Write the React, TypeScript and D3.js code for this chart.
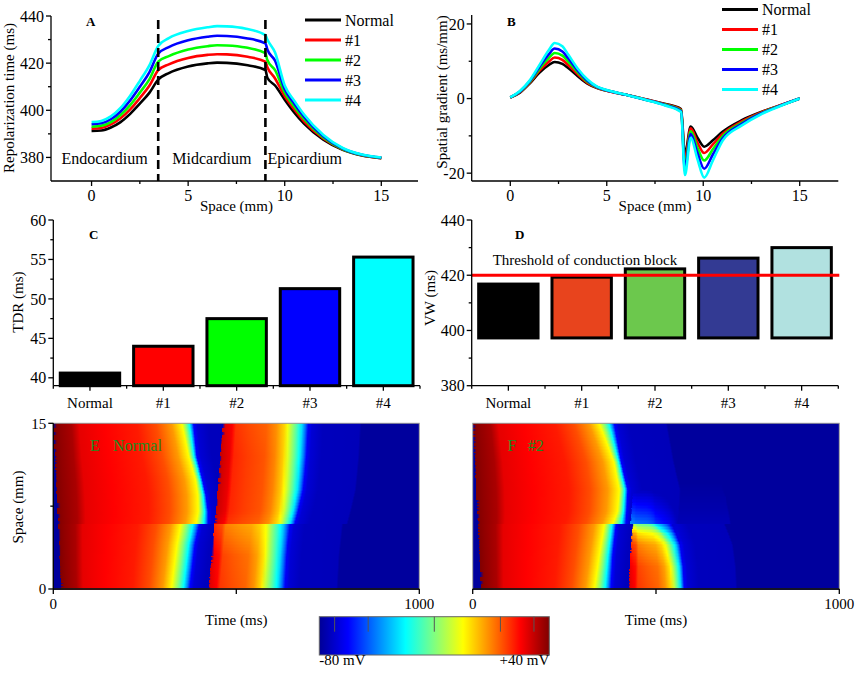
import React, { useMemo } from "react";
import * as d3 from "d3";

const FONT = "'Liberation Serif', 'Times New Roman', Times, serif";
const W = 856;
const H = 674;

// ---- series shared by panels A-D ----
const seriesNames = ["Normal", "#1", "#2", "#3", "#4"];
const seriesColors = ["#000000", "#ff0000", "#00ff00", "#0000ff", "#00ffff"];

// ---- panel A: repolarization time (ms) vs space (mm) ----
const spaceA = [0, 0.5, 1, 1.5, 2, 2.5, 3, 3.45, 4, 5, 6, 6.5, 7, 8, 9, 9.1, 9.5, 10, 10.5, 11, 12, 13, 14, 15];
const rtNormal = [391.2, 391.4, 392.7, 395.0, 398.5, 402.8, 407.5, 413.0, 415.8, 418.6, 419.9, 420.2, 420.1, 419.2, 417.1, 413.8, 410.5, 404.5, 399.0, 394.3, 387.5, 383.2, 380.8, 379.7];
const rt1 = [392.2, 392.5, 394.0, 396.6, 400.4, 405.2, 410.5, 417.0, 419.5, 422.2, 423.5, 423.8, 423.7, 422.8, 420.6, 418.3, 413.5, 406.0, 400.3, 395.3, 388.0, 383.4, 380.9, 379.7];
const rt2 = [393.0, 393.4, 395.0, 398.0, 402.2, 407.5, 413.2, 420.6, 423.0, 425.8, 427.2, 427.6, 427.5, 426.6, 424.2, 421.3, 417.0, 407.5, 401.5, 396.3, 388.5, 383.6, 381.0, 379.8];
const rt3 = [394.1, 394.5, 396.2, 399.5, 404.2, 410.0, 416.2, 424.0, 426.8, 429.7, 431.2, 431.6, 431.5, 430.6, 428.4, 425.8, 421.0, 409.0, 402.8, 397.3, 389.0, 383.8, 381.1, 379.9];
const rt4 = [395.0, 395.5, 397.4, 401.0, 406.2, 412.5, 419.2, 427.3, 430.6, 433.6, 435.2, 435.7, 435.6, 434.6, 431.9, 430.0, 424.5, 410.5, 404.0, 398.2, 389.5, 384.0, 381.2, 380.0];
const repolTimes = [rtNormal, rt1, rt2, rt3, rt4];
const regionBounds = [3.45, 9];
const regionLabels = ["Endocardium", "Midcardium", "Epicardium"];

// ---- panel B: spatial gradient (ms/mm) ----
const spaceB = [0, 0.5, 1, 1.5, 2, 2.3, 2.7, 3, 3.5, 4, 4.5, 5, 6, 7, 8, 8.85, 9.05, 9.35, 9.7, 10.05, 10.5, 11, 12, 13, 14, 15];
const sgNormal = [0.3, 1.6, 4.0, 6.9, 9.0, 9.8, 9.3, 8.2, 6.0, 4.0, 2.8, 2.1, 1.0, -0.2, -1.4, -2.8, -15.0, -7.5, -10.5, -12.9, -11.2, -8.9, -5.8, -3.6, -1.8, 0];
const sg1 = [0.3, 1.7, 4.2, 7.4, 9.9, 11.0, 10.4, 9.0, 6.5, 4.2, 2.9, 2.1, 1.0, -0.2, -1.5, -3.0, -16.5, -8.0, -11.8, -14.6, -12.3, -9.5, -6.1, -3.7, -1.8, 0];
const sg2 = [0.3, 1.8, 4.4, 7.9, 10.9, 12.2, 11.5, 9.9, 7.0, 4.5, 3.0, 2.2, 1.0, -0.3, -1.6, -3.2, -18.0, -8.8, -13.2, -16.6, -13.6, -10.1, -6.5, -3.9, -1.9, 0];
const sg3 = [0.3, 1.9, 4.6, 8.4, 11.9, 13.4, 12.6, 10.8, 7.5, 4.8, 3.1, 2.2, 1.0, -0.3, -1.7, -3.4, -19.0, -9.5, -14.6, -18.8, -15.0, -10.7, -6.8, -4.0, -1.9, 0];
const sg4 = [0.3, 2.0, 4.8, 8.9, 13.0, 14.9, 14.0, 11.8, 8.0, 5.1, 3.2, 2.3, 1.0, -0.3, -1.8, -3.6, -20.5, -10.5, -16.2, -21.2, -16.6, -11.3, -7.2, -4.2, -2.0, 0];
const spatialGrads = [sgNormal, sg1, sg2, sg3, sg4];

// ---- panel C: TDR (ms) ----
const tdrValues = [40.6, 44.0, 47.5, 51.3, 55.3];

// ---- panel D: vulnerable window (ms) ----
const vwLow = [397.3, 397.3, 397.3, 397.3, 397.3];
const vwHigh = [416.8, 419.3, 422.3, 426.2, 430.0];
const vwColors = ["#000000", "#e8441d", "#6cc84d", "#333a93", "#b1e1e0"];
const vwThreshold = 420;

// ---- colour map (mV) used by E, F and the colour bar ----
const jetVolts = [-80, -65, -50, -35, -20, -5, 10, 25, 40];
const jetColors = ["#000096", "#0000ff", "#0080ff", "#00ffff", "#80ff80", "#ffff00", "#ff8000", "#ff0000", "#800000"];
const colorbarTicks = [-72, -54.5, -20, 14.5, 32];

// action potential shape: plateau (upstroke -> yellow), repolarisation (yellow -> blue), tail (ms after blue)
const plateauPhase = [0, 0.05, 0.14, 0.2, 0.4, 0.65, 0.8, 0.92, 1];
const plateauVolt = [40, 38, 35, 28, 25, 22, 16, 7, -5];
const repolPhase = [0, 0.35, 0.65, 0.85, 1];
const repolVolt = [-5, -20, -35, -50, -65];
const tailTime = [0, 10, 40, 140, 145];
const tailVolt = [-65, -71, -74.5, -75, -79];
const REST = -79;

// E (Normal): knots along space (mm) -> upstroke, yellow and blue times (ms), peak (mV)
const eAp1Space = [0, 2, 4, 5.8, 5.9, 7, 8.5, 10, 12, 15];
const eAp1Up = [21, 18, 15.5, 13, 13, 11, 9, 7, 4, 0];
const eAp1Yellow = [323, 330, 338, 348, 390, 396, 395, 388, 370, 351];
const eAp1Blue = [373, 380, 387, 399, 423, 423, 417, 407, 392, 383];
const eAp1Peak = [40, 40, 40, 40, 40, 40, 40, 40, 40, 40];

const eAp2Space = [0, 3, 5.8, 5.9, 7, 9, 12, 15];
const eAp2Up = [424, 432, 440, 440, 444, 449, 456, 463];
const eAp2Yellow = [578, 587, 597, 624, 630, 637, 642, 647];
const eAp2Blue = [633, 638, 647, 660, 669, 683, 692, 697];
const eAp2Peak = [30, 28, 20, 30, 32, 32, 32, 30];

// F (#2)
const fAp1Space = [0, 3, 5.8, 5.9, 7, 9, 11.5, 15];
const fAp1Up = [22, 18, 14, 14, 12, 9, 6, 0];
const fAp1Yellow = [332, 345, 359, 382, 395, 400, 385, 345];
const fAp1Blue = [377, 382, 391, 418, 420, 423, 405, 386];
const fAp1Peak = [40, 40, 40, 40, 40, 40, 40, 40];

const fAp2Space = [0, 2, 4, 5, 5.8, 5.9, 15];
const fAp2Up = [425, 428, 431, 433, 436, 436, 436];
const fAp2Yellow = [550, 546, 535, 520, 500, 500, 500];
const fAp2Blue = [577, 574, 566, 555, 545, 545, 545];
const fAp2Peak = [30, 28, 20, 8, -12, -80, -80];

const fGlowSpace = [0, 5.8, 5.9, 7, 8.5, 9.8];
const fGlowUp = [430, 430, 430, 432, 436, 440];
const fGlowYellow = [500, 500, 500, 498, 495, 490];
const fGlowBlue = [560, 560, 560, 555, 545, 530];
const fGlowPeak = [-80, -80, -48, -58, -70, -80];

// ---- scales ----
const xA = d3.scaleLinear().domain([-2.1, 16.9]).range([51, 418]);
const yA = d3.scaleLinear().domain([370, 440]).range([181, 16]);
const xB = d3.scaleLinear().domain([-2, 17]).range([471.7, 838.3]);
const yB = d3.scaleLinear().domain([-22.1, 22.4]).range([181, 15]);
const xC = d3.scaleBand<string>().domain(seriesNames).range([53.3, 420]).paddingInner(0.19).paddingOuter(0.095);
const yC = d3.scaleLinear().domain([39, 60]).range([385.7, 220]);
const xD = d3.scaleBand<string>().domain(seriesNames).range([471.7, 838.3]).paddingInner(0.19).paddingOuter(0.095);
const yD = d3.scaleLinear().domain([380, 440]).range([385.7, 220]);
const xE = d3.scaleLinear().domain([0, 1000]).range([53.3, 419.3]);
const xF = d3.scaleLinear().domain([0, 1000]).range([472.7, 839.3]);
const yEF = d3.scaleLinear().domain([0, 15]).range([589, 423.3]);

const jet = d3.scaleLinear<string>().domain(jetVolts).range(jetColors).interpolate(d3.interpolateRgb).clamp(true);
const plateau = d3.scaleLinear().domain(plateauPhase).range(plateauVolt).clamp(true);
const repol = d3.scaleLinear().domain(repolPhase).range(repolVolt).clamp(true);
const tail = d3.scaleLinear().domain(tailTime).range(tailVolt).clamp(true);

type Lin = d3.ScaleLinear<number, number>;
type Ap = { up: Lin; yellow: Lin; blue: Lin; peak: Lin };

function makeAp(space: number[], up: number[], yellow: number[], blue: number[], peak: number[]): Ap {
	const k = (r: number[]) => d3.scaleLinear().domain(space).range(r).clamp(true);
	return { up: k(up), yellow: k(yellow), blue: k(blue), peak: k(peak) };
}

const apsE = [
	makeAp(eAp1Space, eAp1Up, eAp1Yellow, eAp1Blue, eAp1Peak),
	makeAp(eAp2Space, eAp2Up, eAp2Yellow, eAp2Blue, eAp2Peak),
];
const apsF = [
	makeAp(fAp1Space, fAp1Up, fAp1Yellow, fAp1Blue, fAp1Peak),
	makeAp(fAp2Space, fAp2Up, fAp2Yellow, fAp2Blue, fAp2Peak),
	makeAp(fGlowSpace, fGlowUp, fGlowYellow, fGlowBlue, fGlowPeak),
];

type ApRow = { up: number; yellow: number; blue: number; peak: number };

// membrane potential of one action potential at time t (ms)
function apVoltage(p: ApRow, t: number): number {
	if (t < p.up) return -Infinity;
	const k = (p.peak - REST) / (40 - REST);
	if (t <= p.yellow) return REST + (plateau((t - p.up) / (p.yellow - p.up)) - REST) * k;
	if (t <= p.blue) return REST + (repol((t - p.yellow) / (p.blue - p.yellow)) - REST) * k;
	const dt = t - p.blue;
	if (dt <= tailTime[tailTime.length - 1]) return Math.min(tail(dt), REST + (repolVolt[repolVolt.length - 1] - REST) * k);
	return -Infinity;
}

function rowStops(aps: Ap[], s: number) {
	const rows: ApRow[] = aps
		.map((ap) => ({ up: ap.up(s), yellow: ap.yellow(s), blue: ap.blue(s), peak: ap.peak(s) }))
		.filter((p) => p.peak > REST + 1);
	const times: number[] = d3.range(0, 1001, 10);
	rows.forEach((p) => {
		times.push(p.up - 0.2, p.up);
		plateauPhase.forEach((f) => times.push(p.up + f * (p.yellow - p.up)));
		repolPhase.forEach((g) => times.push(p.yellow + g * (p.blue - p.yellow)));
		tailTime.forEach((dt) => times.push(p.blue + dt));
		times.push(p.blue + tailTime[tailTime.length - 1] + 0.2);
	});
	const ts = Array.from(new Set(times.filter((t) => t >= 0 && t <= 1000).map((t) => Math.round(t * 100) / 100))).sort((a, b) => a - b);
	const vs = ts.map((t) => Math.max(REST, ...rows.map((p) => apVoltage(p, t))));
	const stops: { offset: number; color: string }[] = [];
	ts.forEach((t, i) => {
		const same = i > 0 && i < ts.length - 1 && Math.abs(vs[i - 1] - vs[i]) < 0.01 && Math.abs(vs[i + 1] - vs[i]) < 0.01;
		if (!same) stops.push({ offset: t / 1000, color: jet(vs[i]) });
	});
	return stops;
}

const N_ROWS = 110;

const Heatmap = ({ id, x, aps }: { id: string; x: Lin; aps: Ap[] }) => {
	const rows = useMemo(() => {
		const [top, bottom] = [yEF(15), yEF(0)];
		const h = (bottom - top) / N_ROWS;
		return d3.range(N_ROWS).map((i) => {
			const s = 15 - ((i + 0.5) * 15) / N_ROWS;
			return { y: top + i * h, h, stops: rowStops(aps, s) };
		});
	}, [aps]);
	const x0 = x(0);
	const w = x(1000) - x(0);
	return (
		<g>
			<defs>
				{rows.map((r, i) => (
					<linearGradient key={i} id={`${id}-${i}`} x1="0" x2="1" y1="0" y2="0">
						{r.stops.map((st, j) => (
							<stop key={j} offset={st.offset} stopColor={st.color} />
						))}
					</linearGradient>
				))}
			</defs>
			{rows.map((r, i) => (
				<rect key={i} x={x0} y={r.y} width={w} height={r.h + 0.6} fill={`url(#${id}-${i})`} shapeRendering="crispEdges" />
			))}
			<rect x={x0} y={yEF(15)} width={w} height={yEF(0) - yEF(15)} fill="none" stroke="#9a9a9a" strokeWidth={1} />
		</g>
	);
};

// ---- axis helpers ----
const AXIS = { stroke: "#000", strokeWidth: 1.3 };

function LeftAxis({ y, x, major, minor, size = 16, fmt = (v: number) => String(v), labels = true }: {
	y: Lin; x: number; major: number[]; minor: number[]; size?: number; fmt?: (v: number) => string; labels?: boolean;
}) {
	const [a, b] = y.range();
	return (
		<g>
			<line x1={x} x2={x} y1={a} y2={b} {...AXIS} />
			{minor.map((v) => <line key={`m${v}`} x1={x - 3} x2={x} y1={y(v)} y2={y(v)} {...AXIS} />)}
			{major.map((v) => (
				<g key={v}>
					<line x1={x - 5} x2={x} y1={y(v)} y2={y(v)} {...AXIS} />
					{labels && <text x={x - 7} y={y(v)} dy="0.35em" textAnchor="end" fontSize={size}>{fmt(v)}</text>}
				</g>
			))}
		</g>
	);
}

function BottomAxis({ x, y, major, minor, size = 16, labelled }: {
	x: Lin; y: number; major: number[]; minor: number[]; size?: number; labelled?: number[];
}) {
	const [a, b] = x.range();
	const shown = labelled ?? major;
	return (
		<g>
			<line x1={a} x2={b} y1={y} y2={y} {...AXIS} />
			{minor.map((v) => <line key={`m${v}`} x1={x(v)} x2={x(v)} y1={y} y2={y + 3} {...AXIS} />)}
			{major.map((v) => (
				<g key={v}>
					<line x1={x(v)} x2={x(v)} y1={y} y2={y + 5} {...AXIS} />
					{shown.includes(v) && <text x={x(v)} y={y + 20} textAnchor="middle" fontSize={size}>{v}</text>}
				</g>
			))}
		</g>
	);
}

function BandAxis({ x, y }: { x: d3.ScaleBand<string>; y: number }) {
	const [a, b] = x.range();
	const step = x.step();
	const edges = d3.range(seriesNames.length + 1).map((i) => a + i * step);
	return (
		<g>
			<line x1={a} x2={b} y1={y} y2={y} {...AXIS} />
			{edges.map((e, i) => <line key={`e${i}`} x1={e} x2={e} y1={y} y2={y + 3} {...AXIS} />)}
			{seriesNames.map((n) => {
				const cx = (x(n) ?? 0) + x.bandwidth() / 2;
				return (
					<g key={n}>
						<line x1={cx} x2={cx} y1={y} y2={y + 5} {...AXIS} />
						<text x={cx} y={y + 22} textAnchor="middle" fontSize={15}>{n}</text>
					</g>
				);
			})}
		</g>
	);
}

const YTitle = ({ x, y, text }: { x: number; y: number; text: string }) => (
	<text transform={`translate(${x},${y}) rotate(-90)`} textAnchor="middle" fontSize={15}>{text}</text>
);

const PanelTag = ({ x, y, text }: { x: number; y: number; text: string }) => (
	<text x={x} y={y} fontSize={13} fontWeight="bold">{text}</text>
);

function Legend({ x, y, gap }: { x: number; y: number; gap: number }) {
	return (
		<g>
			{seriesNames.map((n, i) => (
				<g key={n}>
					<line x1={x} x2={x + 36} y1={y + i * gap} y2={y + i * gap} stroke={seriesColors[i]} strokeWidth={3} />
					<text x={x + 40} y={y + i * gap} dy="0.35em" fontSize={16}>{n}</text>
				</g>
			))}
		</g>
	);
}

export default function App() {
	const lineA = d3.line<number>().x((_, i) => xA(spaceA[i])).y((d) => yA(d)).curve(d3.curveMonotoneX);
	const lineB = d3.line<number>().x((_, i) => xB(spaceB[i])).y((d) => yB(d)).curve(d3.curveMonotoneX);
	const [aTop, aBottom] = [yA(440), yA(370)];
	const bandsA = [xA.range()[0], xA(regionBounds[0]), xA(regionBounds[1])];

	return (
		<svg width={W} height={H} style={{ position: "absolute", left: 0, top: 0, background: "#fff" }} fontFamily={FONT}>
			{/* ---- A ---- */}
			<g>
				{repolTimes.map((d, i) => (
					<path key={i} d={lineA(d) ?? ""} fill="none" stroke={seriesColors[i]} strokeWidth={2.6} />
				))}
				{regionBounds.map((b) => (
					<line key={b} x1={xA(b)} x2={xA(b)} y1={aTop + 4} y2={aBottom} stroke="#000" strokeWidth={2.6} strokeDasharray="9,5" />
				))}
				<text x={(bandsA[0] + bandsA[1]) / 2} y={164} textAnchor="middle" fontSize={16}>{regionLabels[0]}</text>
				<text x={(bandsA[1] + bandsA[2]) / 2} y={164} textAnchor="middle" fontSize={16}>{regionLabels[1]}</text>
				<text x={bandsA[2] + 2} y={164} fontSize={16}>{regionLabels[2]}</text>
				<LeftAxis y={yA} x={xA.range()[0]} major={[380, 400, 420, 440]} minor={[390, 410, 430]} />
				<BottomAxis x={xA} y={aBottom} major={[0, 5, 10, 15]} minor={[2.5, 7.5, 12.5]} />
				<YTitle x={14} y={98} text="Repolarization time (ms)" />
				<text x={xA(7.5)} y={211} textAnchor="middle" fontSize={15}>Space (mm)</text>
				<PanelTag x={86} y={26} text="A" />
				<Legend x={305} y={20} gap={20} />
			</g>

			{/* ---- B ---- */}
			<g>
				{spatialGrads.map((d, i) => (
					<path key={i} d={lineB(d) ?? ""} fill="none" stroke={seriesColors[i]} strokeWidth={2.6} />
				))}
				<LeftAxis y={yB} x={xB.range()[0]} major={[-20, 0, 20]} minor={[-10, 10]} />
				<BottomAxis x={xB} y={yB.range()[0]} major={[0, 5, 10, 15]} minor={[2.5, 7.5, 12.5]} />
				<YTitle x={447} y={92} text="Spatial gradient (ms/mm)" />
				<text x={xB(7.5)} y={211} textAnchor="middle" fontSize={15}>Space (mm)</text>
				<PanelTag x={507} y={26} text="B" />
				<Legend x={722} y={9.5} gap={20} />
			</g>

			{/* ---- C ---- */}
			<g>
				{seriesNames.map((n, i) => (
					<rect key={n} x={xC(n)} y={yC(tdrValues[i])} width={xC.bandwidth()} height={yC(39) - yC(tdrValues[i])}
						fill={seriesColors[i]} stroke="#000" strokeWidth={3} />
				))}
				<LeftAxis y={yC} x={xC.range()[0]} major={[40, 45, 50, 55, 60]} minor={[42.5, 47.5, 52.5, 57.5]} />
				<BandAxis x={xC} y={yC.range()[0]} />
				<YTitle x={23} y={302} text="TDR (ms)" />
				<PanelTag x={89} y={239} text="C" />
			</g>

			{/* ---- D ---- */}
			<g>
				{seriesNames.map((n, i) => (
					<rect key={n} x={xD(n)} y={yD(vwHigh[i])} width={xD.bandwidth()} height={yD(vwLow[i]) - yD(vwHigh[i])}
						fill={vwColors[i]} stroke="#000" strokeWidth={3} />
				))}
				<line x1={xD.range()[0]} x2={xD.range()[1] + 1} y1={yD(vwThreshold)} y2={yD(vwThreshold)} stroke="#ff0000" strokeWidth={3} />
				<text x={xD.range()[0] + 21} y={yD(vwThreshold) - 10} fontSize={15}>Threshold of conduction block</text>
				<LeftAxis y={yD} x={xD.range()[0]} major={[380, 400, 420, 440]} minor={[390, 410, 430]} />
				<BandAxis x={xD} y={yD.range()[0]} />
				<YTitle x={435} y={298} text="VW (ms)" />
				<PanelTag x={515} y={239} text="D" />
			</g>

			{/* ---- E ---- */}
			<g>
				<Heatmap id="hmE" x={xE} aps={apsE} />
				<LeftAxis y={yEF} x={xE.range()[0]} major={[0, 15]} minor={[7.5]} size={15} />
				<BottomAxis x={xE} y={yEF(0)} major={[0, 500, 1000]} minor={[]} size={15} labelled={[0, 1000]} />
				<YTitle x={23} y={507} text="Space (mm)" />
				<text x={xE(500)} y={625} textAnchor="middle" fontSize={15}>Time (ms)</text>
				<text x={xE(100)} y={451} fontSize={16} fill="#1f8a1f">E</text>
				<text x={xE(163)} y={451} fontSize={16} fill="#1f8a1f">Normal</text>
			</g>

			{/* ---- F ---- */}
			<g>
				<Heatmap id="hmF" x={xF} aps={apsF} />
				<BottomAxis x={xF} y={yEF(0)} major={[0, 500, 1000]} minor={[]} size={15} labelled={[0, 1000]} />
				<text x={xF(500)} y={625} textAnchor="middle" fontSize={15}>Time (ms)</text>
				<text x={xF(95)} y={451} fontSize={16} fill="#1f8a1f">F</text>
				<text x={xF(150)} y={451} fontSize={16} fill="#1f8a1f">#2</text>
			</g>

			{/* ---- colour bar ---- */}
			<ColorBar />
		</svg>
	);
}

function ColorBar() {
	const cx = d3.scaleLinear().domain([-80, 40]).range([319.3, 549.3]);
	const [top, h] = [616.7, 38.3];
	return (
		<g>
			<defs>
				<linearGradient id="cbar" x1="0" x2="1" y1="0" y2="0">
					{jetVolts.map((v, i) => (
						<stop key={v} offset={(v + 80) / 120} stopColor={jetColors[i]} />
					))}
				</linearGradient>
			</defs>
			<rect x={cx(-80)} y={top} width={cx(40) - cx(-80)} height={h} fill="url(#cbar)" stroke="#666" strokeWidth={1} />
			{colorbarTicks.map((v) => (
				<line key={v} x1={cx(v)} x2={cx(v)} y1={top} y2={top + 15} stroke="#555" strokeWidth={1} />
			))}
			<text x={cx(-80)} y={665} fontSize={15}>-80 mV</text>
			<text x={cx(40)} y={665} textAnchor="end" fontSize={15}>+40 mV</text>
		</g>
	);
}
